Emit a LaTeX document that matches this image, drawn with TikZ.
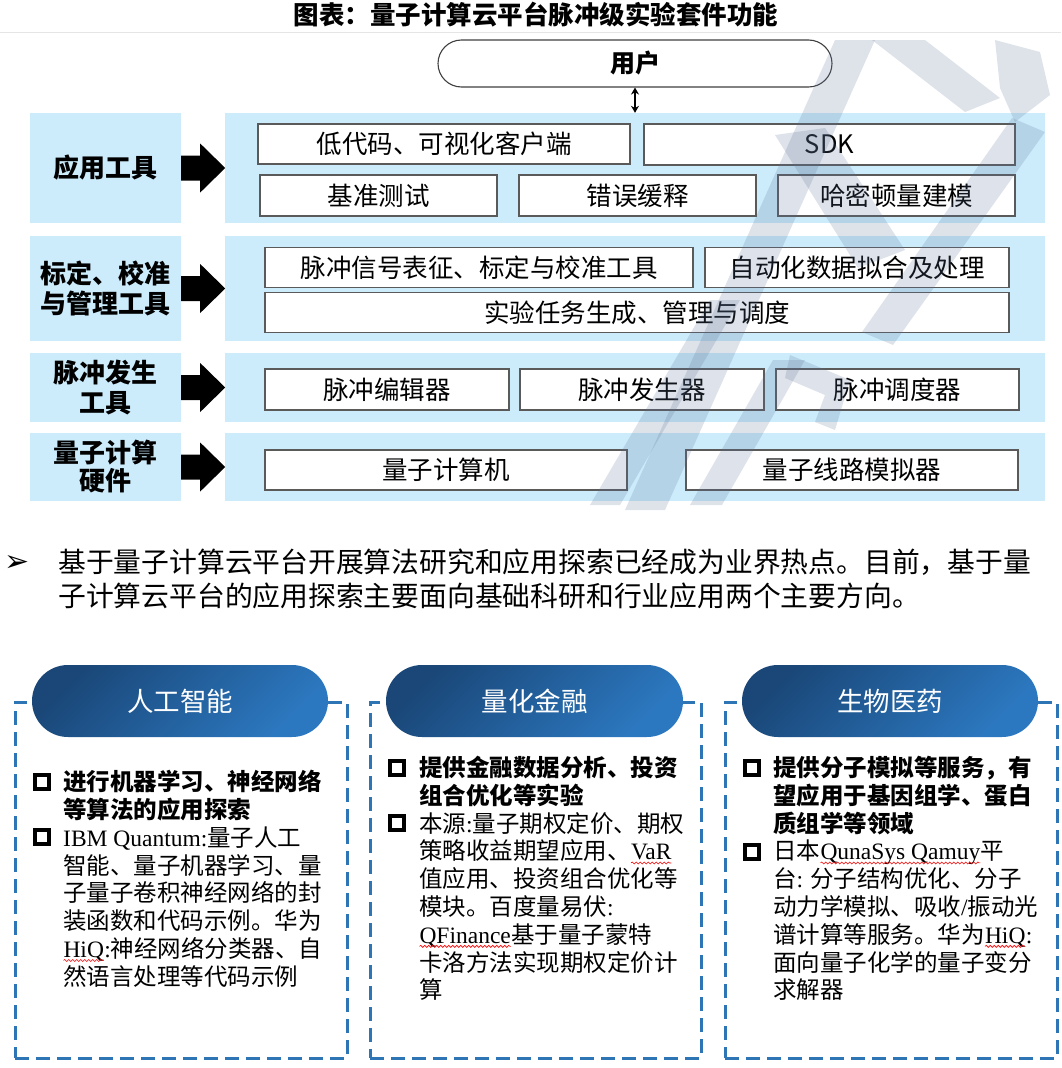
\documentclass[tikz,border=0pt]{standalone}
\usepackage{fontspec}
\setmainfont{Noto Sans CJK SC}
\newfontfamily\lat{Liberation Serif}
\newfontfamily\symfont{DejaVu Sans}
\usetikzlibrary{arrows.meta,calc,decorations.pathmorphing}
\definecolor{panel}{HTML}{CCECFC}
\definecolor{dashblue}{HTML}{2E75B6}
\definecolor{pilldark}{HTML}{1A4778}
\definecolor{pilllight}{HTML}{2C78C0}
\definecolor{boxline}{HTML}{5A5A5A}
\definecolor{wmark}{HTML}{5A7196}
\newcommand\rwave[1]{\tikz[baseline=(w.base)]{\node[anchor=base, inner sep=0, outer sep=0] (w) {#1}; \draw[red, line width=0.6, decorate, decoration={snake, amplitude=1, segment length=4}] ([yshift=-3]w.base west) -- ([yshift=-3]w.base east);}}
\tikzset{
  panelbox/.style={fill=panel, draw=none, inner sep=0},
  labelbox/.style={panelbox, minimum width=151, font=\fontsize{26}{30}\selectfont\bfseries, align=center},
  itembox/.style={fill=white, draw=boxline, line width=1.2, inner sep=0, font=\fontsize{25.5}{28}\selectfont},
  userbox/.style={fill=white, draw=black!75, line width=1.1, rounded corners=23.5, inner sep=0, font=\fontsize{25}{28}\selectfont\bfseries},
  fatarrow/.pic={\fill[black] (0,-12.5) -- (19,-12.5) -- (19,-24.5) -- (44,0) -- (19,24.5) -- (19,12.5) -- (0,12.5) -- cycle;},
  dashbox/.style={draw=dashblue, line width=3, dash pattern=on 14 off 7, inner sep=0, minimum height=356},
  pill/.style={left color=pilldark, right color=pilllight, shading angle=45, draw=none, rounded corners=36, minimum height=72, inner sep=0, text=white, font=\fontsize{26.5}{30}\selectfont},
  sqb/.style={draw=black, fill=white, line width=4, minimum size=13.5, inner sep=0},
  cardtext/.style={anchor=north west, inner sep=0, align=left, font=\fontsize{23.5}{27.8}\selectfont},
  wm/.style={fill=wmark, opacity=0.2, draw=none}
}
\begin{document}
\begin{tikzpicture}[x=1pt, y=-1pt]
\useasboundingbox (0,0) rectangle (1061,1068);
% title
\node[font=\fontsize{25.5}{28}\selectfont\bfseries, inner sep=0] (title) at (536,15) {图表：量子计算云平台脉冲级实验套件功能};
\draw[black!10, line width=0.8] (0,32) -- (1061,32);
% user
\node[userbox, minimum width=394, minimum height=47] (user) at (635,63.5) {用户};
% rows: labels and panels
\node[labelbox, minimum height=110] (l1) at (105.5,168) {应用工具};
\node[panelbox, minimum width=820, minimum height=110] (p1) at (635,168) {};
\node[labelbox, minimum height=105] (l2) at (105.5,288.5) {标定、校准\\与管理工具};
\node[panelbox, minimum width=820, minimum height=105] (p2) at (635,288.5) {};
\node[labelbox, minimum height=69] (l3) at (105.5,387.5) {脉冲发生\\工具};
\node[panelbox, minimum width=820, minimum height=69] (p3) at (635,387.5) {};
\node[labelbox, minimum height=68, font=\fontsize{26}{28}\selectfont\bfseries] (l4) at (105.5,467) {量子计算\\硬件};
\node[panelbox, minimum width=820, minimum height=68] (p4) at (635,467) {};
% arrows
\pic at (l1.east) {fatarrow};
\pic at (l2.east) {fatarrow};
\pic at (l3.east) {fatarrow};
\pic at (l4.east) {fatarrow};
\draw[{Stealth[length=7,width=8]}-{Stealth[length=7,width=8]}, line width=2] (user.south) -- (user.south |- p1.north);
% row 1 items
\node[itembox, minimum width=372, minimum height=40] (b11) at (444,144) {低代码、可视化客户端};
\node[itembox, minimum width=371, minimum height=41] (b12) at (829.5,144.5) {SDK};
\node[itembox, minimum width=237, minimum height=41] (b13) at (378.5,195.5) {基准测试};
\node[itembox, minimum width=237, minimum height=41] (b14) at (637.5,195.5) {错误缓释};
\node[itembox, minimum width=237, minimum height=41] (b15) at (896.5,195.5) {哈密顿量建模};
% row 2 items
\node[itembox, minimum width=428, minimum height=40] (b21) at (479,267.5) {脉冲信号表征、标定与校准工具};
\node[itembox, minimum width=304, minimum height=40] (b22) at (857,267.5) {自动化数据拟合及处理};
\node[itembox, minimum width=744, minimum height=40] (b23) at (637,312.5) {实验任务生成、管理与调度};
% row 3 items
\node[itembox, minimum width=244, minimum height=41] (b31) at (387,389.5) {脉冲编辑器};
\node[itembox, minimum width=244, minimum height=41] (b32) at (642,389.5) {脉冲发生器};
\node[itembox, minimum width=243, minimum height=41] (b33) at (897.5,389.5) {脉冲调度器};
% row 4 items
\node[itembox, minimum width=362, minimum height=40] (b41) at (446,470) {量子计算机};
\node[itembox, minimum width=332, minimum height=40] (b42) at (852,470) {量子线路模拟器};
% watermark (faint logo)
\fill[wm] (625,510) -- (665,510) -- (875,40) -- (835,40) -- cycle;
\fill[wm] (590,505) -- (620,505) -- (740,300) -- (710,300) -- cycle;
\fill[wm] (690,505) -- (722,505) -- (805,360) -- (773,360) -- cycle;
\fill[wm] (790,355) -- (850,380) -- (835,430) -- (815,422) -- (825,395) -- (785,378) -- cycle;
\fill[wm] (872,40) -- (925,40) -- (1000,98) -- (965,112) -- cycle;
\fill[wm] (995,40) -- (1040,52) -- (1050,95) -- (1015,122) -- (1000,88) -- cycle;
\fill[wm] (1012,118) -- (1045,132) -- (893,345) -- (862,332) -- cycle;
\fill[wm] (775,135) -- (825,128) -- (905,250) -- (858,268) -- cycle;
% bullet paragraph
\node[font=\symfont\fontsize{30}{32}\selectfont, inner sep=0] (bul) at (17,563) {➢};
\node[anchor=north west, inner sep=0, align=left, font=\fontsize{27.8}{34}\selectfont] (para) at (58,549) {基于量子计算云平台开展算法研究和应用探索已经成为业界热点。目前，基于量\\子计算云平台的应用探索主要面向基础科研和行业应用两个主要方向。};
% cards
\node[dashbox, minimum width=332] (d1) at (181,880) {};
\node[dashbox, minimum width=331] (d2) at (535.5,880) {};
\node[dashbox, minimum width=332] (d3) at (891,880) {};
\node[pill, minimum width=296] (h1) at (180,701) {人工智能};
\node[pill, minimum width=297] (h2) at (534.5,701) {量化金融};
\node[pill, minimum width=296] (h3) at (890,701) {生物医药};
% card 1
\node[sqb] (s11) at (42,782) {};
\node[sqb] (s12) at (42,837) {};
\node[cardtext] (t1) at (63,770) {{\bfseries 进行机器学习、神经网络}\\{\bfseries 等算法的应用探索}\\{\lat IBM Quantum:}量子人工\\智能、量子机器学习、量\\子量子卷积神经网络的封\\装函数和代码示例。华为\\{\lat \rwave{HiQ}:}神经网络分类器、自\\然语言处理等代码示例};
% card 2
\node[sqb] (s21) at (397,768) {};
\node[sqb] (s22) at (397,823) {};
\node[cardtext] (t2) at (419,756) {{\bfseries 提供金融数据分析、投资}\\{\bfseries 组合优化等实验}\\本源{\lat :}量子期权定价、期权\\策略收益期望应用、{\lat \rwave{VaR}}\\值应用、投资组合优化等\\模块。百度量易伏{\lat :}\\{\lat \rwave{QFinance}}基于量子蒙特\\卡洛方法实现期权定价计\\算};
% card 3
\node[sqb] (s31) at (752,768) {};
\node[sqb] (s32) at (752,852) {};
\node[cardtext] (t3) at (773,756) {{\bfseries 提供分子模拟等服务，有}\\{\bfseries 望应用于基因组学、蛋白}\\{\bfseries 质组学等领域}\\日本{\lat \rwave{QunaSys Qamuy}}平\\台{\lat :} 分子结构优化、分子\\动力学模拟、吸收{\lat /}振动光\\谱计算等服务。华为{\lat \rwave{HiQ}:}\\面向量子化学的量子变分\\求解器};
\end{tikzpicture}
\end{document}
